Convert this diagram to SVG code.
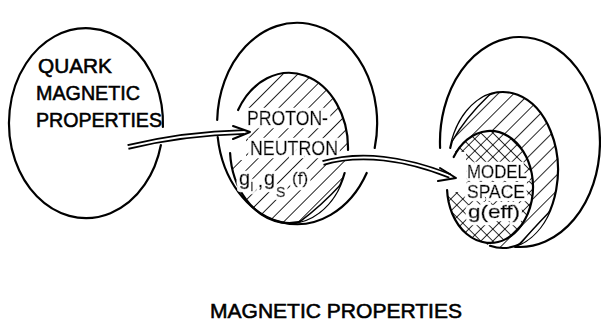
<svg xmlns="http://www.w3.org/2000/svg" width="601" height="322" viewBox="0 0 601 322">
<style>
.ol{fill:none;stroke:#000;stroke-width:2.2;stroke-linecap:round}
.t{font-family:"Liberation Sans",Arial,sans-serif;fill:#000;stroke:#000;stroke-width:0.55}
.hl{filter:url(#halo)}
.dbl1{fill:none;stroke:#000;stroke-width:5.5;stroke-linecap:butt}
.dbl2{fill:none;stroke:#fff;stroke-width:2;stroke-linecap:butt}
.ah{fill:none;stroke:#000;stroke-width:2;stroke-linecap:round;stroke-linejoin:round}
.lf{fill:#fff;stroke:none}
.lc{fill:none;stroke:#000;stroke-width:1.5;stroke-linecap:round}
</style>
<defs>
<pattern id="hatchA" width="10.5" height="10.5" patternUnits="userSpaceOnUse" patternTransform="rotate(45)">
<line x1="0" y1="0" x2="0" y2="10.5" stroke="#000" stroke-width="1.7"/>
</pattern>
<pattern id="hatchB" width="11" height="11" patternUnits="userSpaceOnUse" patternTransform="rotate(45)">
<line x1="0" y1="0" x2="0" y2="11" stroke="#000" stroke-width="1.7"/>
</pattern>
<pattern id="cross" width="8.5" height="8.5" patternUnits="userSpaceOnUse" patternTransform="rotate(45)">
<line x1="0" y1="0" x2="0" y2="8.5" stroke="#000" stroke-width="1.6"/>
<line x1="0" y1="0" x2="8.5" y2="0" stroke="#000" stroke-width="1.6"/>
</pattern>
<filter id="halo" x="-20%" y="-40%" width="140%" height="180%">
<feMorphology in="SourceAlpha" operator="dilate" radius="2.5" result="d"/>
<feFlood flood-color="#fff"/>
<feComposite in2="d" operator="in" result="w"/>
<feMerge><feMergeNode in="w"/><feMergeNode in="SourceGraphic"/></feMerge>
</filter>
</defs>
<rect width="601" height="322" fill="#fff"/>

<g id="quark">
<path class="ol" d="M160.9,145 A77,95 0 1 1 162.9,127"/>
<text class="t" x="38" y="73" font-size="20" textLength="74" lengthAdjust="spacingAndGlyphs">QUARK</text>
<text class="t" x="36" y="100" font-size="20" textLength="104" lengthAdjust="spacingAndGlyphs">MAGNETIC</text>
<text class="t" x="36" y="127" font-size="20" textLength="126" lengthAdjust="spacingAndGlyphs">PROPERTIES</text>
</g>

<g id="nucleon">
<path class="ol" d="M217.2,120 A80,100.5 0 1 1 374.7,148"/>
<path class="ol" d="M366.7,173 A80,100.5 0 0 1 217.7,137"/>
<ellipse cx="289" cy="148" rx="59" ry="75" fill="url(#hatchA)"/>
<rect x="228" y="108" width="18" height="52" fill="#fff"/>
<path class="ol" d="M238.1,110 A59,75 0 0 1 348,150"/>
<path class="ol" d="M344.6,173 A59,75 0 0 1 230.1,153"/>
<path class="lf" d="M300,221.7 Q322,205 340.3,185 A59,75 0 0 1 300,221.7 Z"/>
<path class="lc" d="M300,221.7 Q322,205 340.3,185"/>
<g class="hl">
<text class="t" x="247" y="125" font-size="21" textLength="81" lengthAdjust="spacingAndGlyphs">PROTON-</text>
<text class="t" x="250" y="155" font-size="21" textLength="88" lengthAdjust="spacingAndGlyphs">NEUTRON</text>
<text class="t" x="239" y="185" font-size="20">g</text>
<text class="t" x="250.5" y="191" font-size="12">l</text>
<text class="t" x="258" y="187" font-size="18">,</text>
<text class="t" x="264" y="185" font-size="20">g</text>
<text class="t" x="276" y="197" font-size="14">S</text>
<text class="t" x="292" y="184" font-size="17">(f)</text>
</g>
</g>

<g id="model">
<path class="ol" d="M440.1,148 A80,105 0 1 1 515,246.8"/>
<ellipse cx="503" cy="170" rx="55" ry="78" fill="url(#hatchB)"/>
<path class="ol" d="M450.2,148 A55,78 0 1 1 490,245.8"/>
<path class="lf" d="M451.7,142 Q465,118 490,94.2 A55,78 0 0 0 451.7,142 Z"/>
<path class="lc" d="M451.7,142 Q465,118 490,94.2"/>
<path class="lf" d="M520,244.2 Q530,232 549.3,212 A55,78 0 0 1 520,244.2 Z"/>
<path class="lc" d="M520,244.2 Q530,232 549.3,212"/>
<ellipse cx="490" cy="187" rx="43" ry="56" fill="#fff"/>
<ellipse cx="490" cy="187" rx="43" ry="56" fill="url(#cross)"/>
<rect x="446" y="152" width="20" height="40" fill="#fff"/>
<path class="ol" stroke-width="2.8" d="M453.7,157 A43,56 0 1 1 447.1,190"/>
<g class="hl">
<text class="t" x="467" y="178" font-size="19" textLength="60" lengthAdjust="spacingAndGlyphs">MODEL</text>
<text class="t" x="467" y="198" font-size="19" textLength="58" lengthAdjust="spacingAndGlyphs">SPACE</text>
<text class="t" x="468" y="218" font-size="19" textLength="52" lengthAdjust="spacingAndGlyphs">g(eff)</text>
</g>
</g>

<g id="connectors">
<path class="dbl1" d="M128,147 C165,138 200,133 244,132"/>
<path class="dbl2" d="M126,147.4 C165,138 200,133 245,132"/>
<path class="ah" d="M233,126 L250,132 L233,139"/>
<path class="dbl1" d="M323,163 C360,152 405,158 450,176"/>
<path class="dbl2" d="M321,163.5 C360,152 405,158 451,176.4"/>
<path class="ah" d="M440,168 L456,178 L438,181"/>
</g>

<text class="t" x="210" y="318" font-size="20" textLength="252" lengthAdjust="spacingAndGlyphs">MAGNETIC PROPERTIES</text>
</svg>
